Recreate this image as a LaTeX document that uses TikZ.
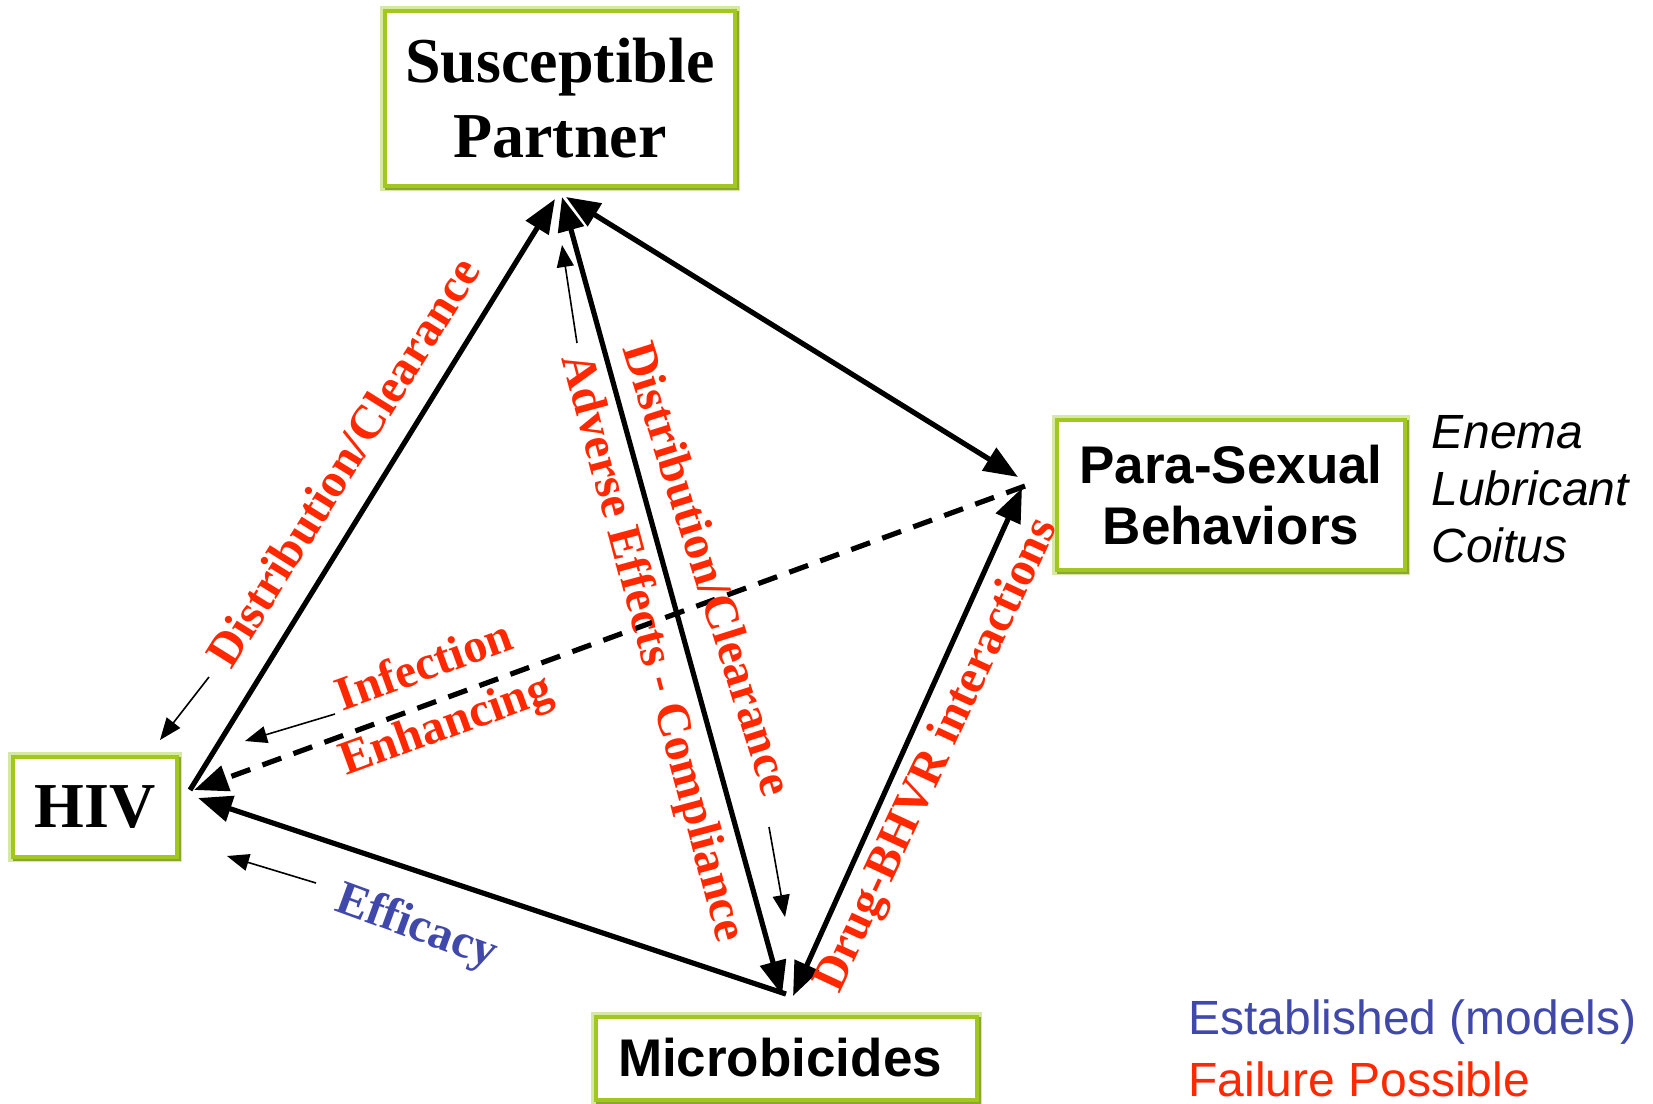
\documentclass[tikz,border=0pt]{standalone}
\usepackage{fontspec}
\setmainfont{Liberation Serif}
\newfontfamily\arialf{Liberation Sans}
\usetikzlibrary{arrows.meta}
\definecolor{boxgreen}{RGB}{162,200,30}
\definecolor{boxlight}{RGB}{214,233,160}
\definecolor{boxdark}{RGB}{140,166,50}
\definecolor{failred}{RGB}{255,40,0}
\definecolor{estblue}{RGB}{64,72,170}
\begin{document}
\begin{tikzpicture}[x=0.5pt,y=-0.5pt,
  box/.style={draw=boxgreen, line width=2pt, fill=white, inner sep=0pt,
    preaction={draw=boxlight, line width=5pt},
    preaction={draw=boxdark, line width=2pt, transform canvas={shift={(1.2pt,-1.2pt)}}}},
  serifbox/.style={box, font=\bfseries\fontsize{32}{37.5}\selectfont, align=center},
  sansbox/.style={box, font=\arialf\bfseries\fontsize{26.5}{30.5}\selectfont, align=center},
  mainline/.style={line width=2.6pt, >={Triangle[length=17pt,width=13pt]}},
  thin/.style={line width=0.8pt, -{Triangle[length=11pt,width=8.5pt]}},
  lbl/.style={text=failred, font=\bfseries\fontsize{24}{31}\selectfont, inner sep=0pt, align=center},
  legend/.style={font=\arialf\fontsize{24}{29}\selectfont, inner sep=0pt, anchor=west}
]
\useasboundingbox (0,0) rectangle (1653,1103);

% boxes
\node[serifbox, minimum width=175pt, minimum height=87.5pt] (sp) at (560,98) {Susceptible\\Partner};
\node[serifbox, minimum width=82pt, minimum height=50pt] (hiv) at (95,807) {HIV};
\node[sansbox, minimum width=174pt, minimum height=75pt] (psb) at (1231,495) {Para-Sexual\\Behaviors};
\node[box, minimum width=190.5pt, minimum height=41.5pt] (mic) at (786,1058) {};
\node[font=\arialf\bfseries\fontsize{26.5}{30.5}\selectfont, inner sep=0pt] (mict) at (780,1058) {Microbicides};

\node[font=\arialf\itshape\fontsize{24}{28.5}\selectfont, align=left, inner sep=0pt, anchor=west] (ex) at (1431,489) {Enema\\Lubricant\\Coitus};

\node[legend, text=estblue] (leg1) at (1188,1022) {Established (models)};
\node[legend, text=failred] (leg2) at (1188,1079) {Failure Possible};

% connector end points
\coordinate (spA) at (555,199);
\coordinate (spB) at (562,197);
\coordinate (spC) at (566,197);
\coordinate (hivA) at (190,790);
\coordinate (hivB) at (198,798);
\coordinate (hivC) at (194,790);
\coordinate (paA) at (1018,477);
\coordinate (paB) at (1022,488);
\coordinate (paC) at (1025,486);
\coordinate (miA) at (782,995);
\coordinate (miB) at (793,996);
\coordinate (miC) at (786,994);

% main connectors
\draw[mainline, ->] (hivA) -- (spA);
\draw[mainline, <->] (spC) -- (paA);
\draw[mainline, <->] (spB) -- (miA);
\draw[mainline, <->] (miB) -- (paB);
\draw[mainline, ->] (miC) -- (hivB);
\draw[mainline, ->, dash pattern=on 10pt off 6.5pt] (paC) -- (hivC);

% thin arrows
\coordinate (t1s) at (209,677); \coordinate (t1e) at (160,740);
\coordinate (t2s) at (577,343); \coordinate (t2e) at (562,245);
\coordinate (t3s) at (769,827); \coordinate (t3e) at (785,917);
\coordinate (t4s) at (335,714); \coordinate (t4e) at (245,741);
\coordinate (t5s) at (316,883); \coordinate (t5e) at (227,856);
\draw[thin] (t1s) -- (t1e);
\draw[thin] (t2s) -- (t2e);
\draw[thin] (t3s) -- (t3e);
\draw[thin] (t4s) -- (t4e);
\draw[thin] (t5s) -- (t5e);

% labels
\node[lbl, rotate=58] (l1) at (343,462) {Distribution/Clearance};
\node[lbl, rotate=-72.5] (l2) at (709,569) {Distribution/Clearance};
\node[lbl, rotate=-75] (l3) at (651,648) {Adverse Effects - Compliance};
\node[lbl, rotate=65] (l4) at (938,756) {Drug-BHVR interactions};
\node[lbl, rotate=20] (l5) at (436,698) {Infection\\Enhancing};
\node[lbl, rotate=-20, text=estblue] (l6) at (416,928) {Efficacy};
\end{tikzpicture}
\end{document}
